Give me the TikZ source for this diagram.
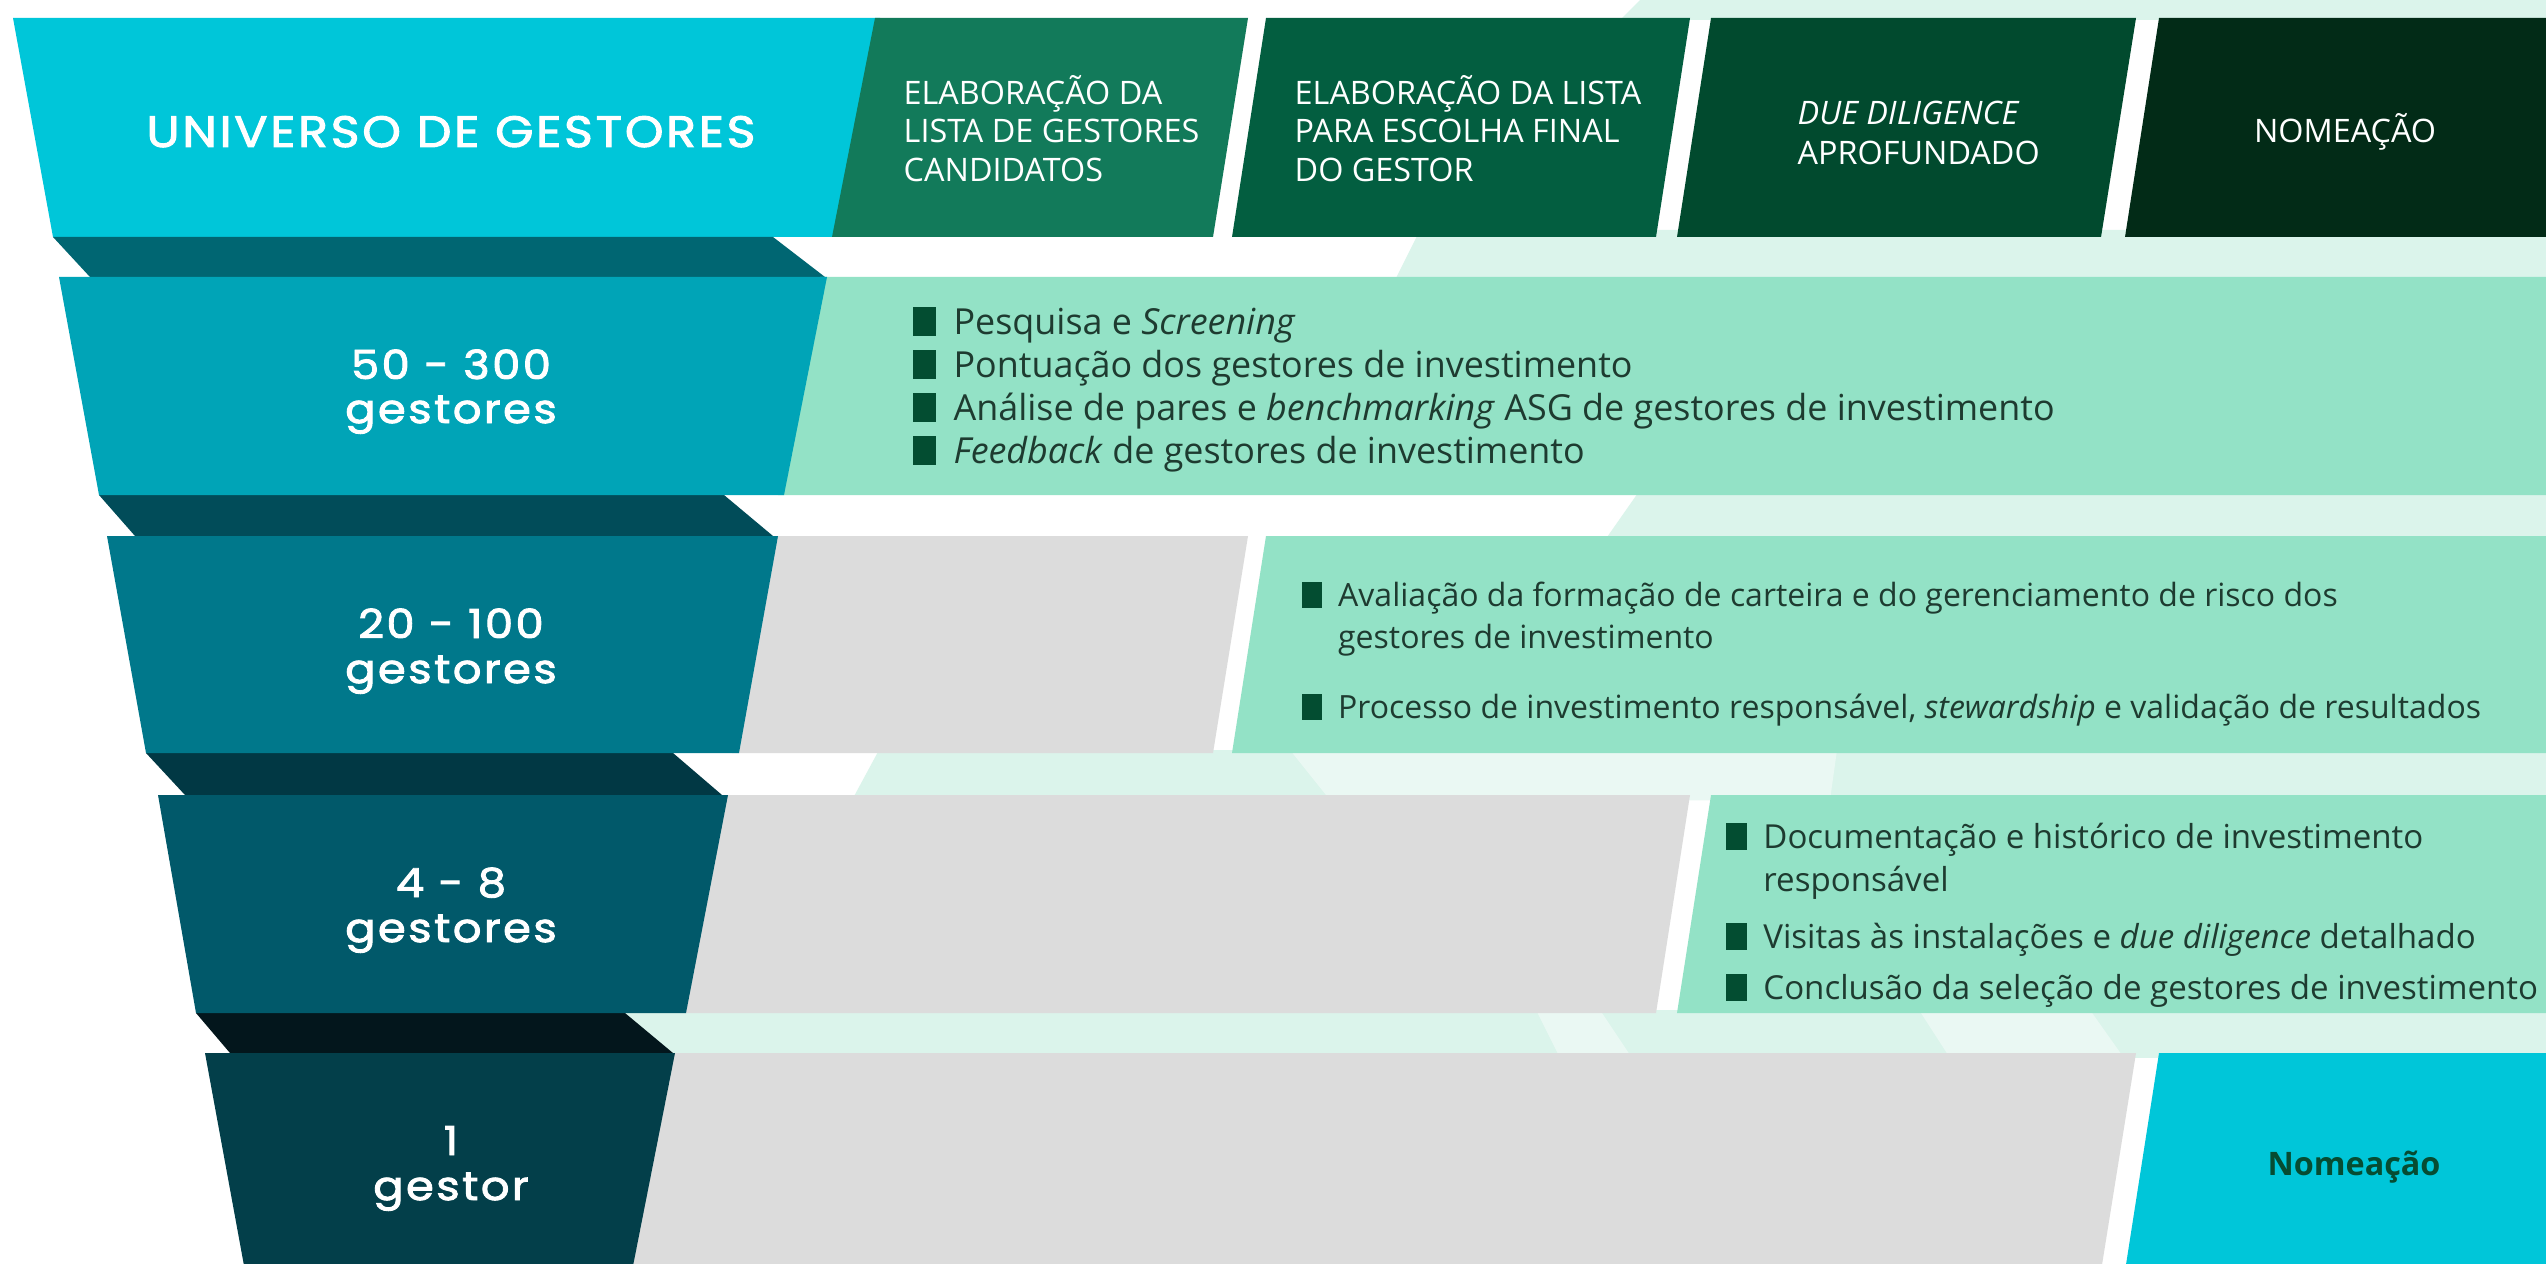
\documentclass[tikz,border=0pt]{standalone}
\usepackage{fontspec}
\setmainfont{Open Sans}
\newfontfamily\lblfont[FakeStretch=1.12,LetterSpace=6,FakeBold=2.2]{Poppins}
\definecolor{hcyan}{HTML}{00C6D9}
\definecolor{gA}{HTML}{127A5A}
\definecolor{gB}{HTML}{035E40}
\definecolor{gC}{HTML}{014A2E}
\definecolor{gD}{HTML}{022B17}
\definecolor{fA}{HTML}{00A4B7}
\definecolor{fB}{HTML}{00788B}
\definecolor{fC}{HTML}{01596A}
\definecolor{fD}{HTML}{033F4A}
\definecolor{cA}{HTML}{006672}
\definecolor{cB}{HTML}{014C59}
\definecolor{cC}{HTML}{013844}
\definecolor{cD}{HTML}{03161C}
\definecolor{panel}{HTML}{93E2C6}
\definecolor{greyp}{HTML}{DCDCDC}
\definecolor{mint}{HTML}{DBF4EB}
\definecolor{mintl}{HTML}{EAF8F3}
\definecolor{bodyc}{HTML}{1E3B30}
\definecolor{bulletc}{HTML}{034D31}
\definecolor{nomc}{HTML}{064C32}
\newcommand{\bsq}{{\color{bulletc}\rule[-0.06em]{0.64em}{0.82em}}\hspace{0.5em}}
\tikzset{
  hdrtxt/.style={text=white, font=\fontsize{9.2}{11}\selectfont, anchor=base west, inner sep=0pt},
  bodytxt/.style={text=bodyc, font=\fontsize{9.2}{11}\selectfont, anchor=base west, inner sep=0pt},
  bodyA/.style={bodytxt, font=\fontsize{10.2}{12}\selectfont},
  bodyB/.style={bodytxt, font=\fontsize{9.1}{11}\selectfont},
  bodyC/.style={bodytxt, font=\fontsize{9.4}{11}\selectfont},
  lbltxt/.style={text=white, font=\lblfont\fontsize{11.4}{13}\selectfont, anchor=base, inner sep=0pt},
}
\begin{document}
\begin{tikzpicture}[x=0.01cm,y=-0.01cm]
\useasboundingbox (0,0) rectangle (2546,1264);
\begin{scope}
\clip (0,0) rectangle (2546,1264);
\fill[white] (0,0) rectangle (2546,1264);
% background mint
\fill[mint] (1640,0)--(2546,0)--(2546,20)--(1620,20)--cycle;
\fill[mint] (1420,230)--(2546,230)--(2546,280)--(1395,280)--cycle;
\fill[mint] (1640,490)--(2546,490)--(2546,540)--(1605,540)--cycle;
\fill[mint] (879,750)--(2546,750)--(2546,800)--(852,800)--cycle;
\fill[mintl] (1290,750)--(1837,750)--(1830,800)--(1330,800)--cycle;
\fill[mint] (620,1010)--(2546,1010)--(2546,1058)--(620,1058)--cycle;
\fill[mintl] (1536,1010)--(1600,1010)--(1632,1058)--(1560,1058)--cycle;
\fill[mintl] (1919,1010)--(2090,1010)--(2124,1058)--(1950,1058)--cycle;
% header row
\fill[hcyan] (13,18)--(880,18)--(837,237)--(53,237)--cycle;
\fill[gA] (875,18)--(1248,18)--(1213,237)--(832,237)--cycle;
\fill[gB] (1266,18)--(1690,18)--(1656,237)--(1232,237)--cycle;
\fill[gC] (1711,18)--(2136,18)--(2101,237)--(1677,237)--cycle;
\fill[gD] (2159,18)--(2546,18)--(2546,237)--(2125,237)--cycle;
% connectors
\fill[cA] (53,237)--(773,237)--(825,277)--(90,277)--cycle;
\fill[cB] (99,495)--(724,495)--(773,536)--(135,536)--cycle;
\fill[cC] (146,753)--(673,753)--(722,795)--(185,795)--cycle;
\fill[cD] (196,1013)--(625,1013)--(673,1053)--(230,1053)--cycle;
% panels
\fill[panel] (820,277)--(2546,277)--(2546,495)--(778,495)--cycle;
\fill[greyp] (770,536)--(1248,536)--(1213,753)--(732,753)--cycle;
\fill[panel] (1266,536)--(2546,536)--(2546,753)--(1232,753)--cycle;
\fill[greyp] (720,795)--(1690,795)--(1656,1013)--(680,1013)--cycle;
\fill[panel] (1711,795)--(2546,795)--(2546,1013)--(1677,1013)--cycle;
\fill[greyp] (668,1053)--(2136,1053)--(2101,1271)--(626,1271)--cycle;
\fill[hcyan] (2159,1053)--(2546,1053)--(2546,1271)--(2125,1271)--cycle;
% funnel rows
\fill[fA] (59,277)--(827,277)--(784,495)--(99,495)--cycle;
\fill[fB] (107,536)--(778,536)--(739,753)--(146,753)--cycle;
\fill[fC] (158,795)--(728,795)--(686,1013)--(196,1013)--cycle;
\fill[fD] (205,1053)--(675,1053)--(632,1271)--(245,1271)--cycle;
\end{scope}
% header texts
\node[lbltxt, font=\lblfont\fontsize{12.5}{14}\selectfont] (univ) at (451,147) {UNIVERSO DE GESTORES};
\node[hdrtxt] (h1a) at (903,105) {ELABORAÇÃO DA};
\node[hdrtxt] (h1b) at (903,143) {LISTA DE GESTORES};
\node[hdrtxt] (h1c) at (903,182) {CANDIDATOS};
\node[hdrtxt] (h2a) at (1294,105) {ELABORAÇÃO DA LISTA};
\node[hdrtxt] (h2b) at (1294,143) {PARA ESCOLHA FINAL};
\node[hdrtxt] (h2c) at (1294,182) {DO GESTOR};
\node[hdrtxt] (h3a) at (1797,125) {\itshape DUE DILIGENCE};
\node[hdrtxt] (h3b) at (1797,165) {APROFUNDADO};
\node[hdrtxt, anchor=base] (h4) at (2345,143) {NOMEAÇÃO};
% funnel labels
\node[lbltxt] (r1a) at (451,379) {50 - 300};
\node[lbltxt] (r1b) at (451,423) {gestores};
\node[lbltxt] (r2a) at (451,638) {20 - 100};
\node[lbltxt] (r2b) at (451,683) {gestores};
\node[lbltxt] (r3a) at (451,897) {4 - 8};
\node[lbltxt] (r3b) at (451,942) {gestores};
\node[lbltxt] (r4a) at (451,1155) {1};
\node[lbltxt] (r4b) at (451,1200) {gestor};
% row 1 text
\node[bodyA] (t1a) at (912,334) {\bsq Pesquisa e \textit{Screening}};
\node[bodyA] (t1b) at (912,377) {\bsq Pontuação dos gestores de investimento};
\node[bodyA] (t1c) at (912,420) {\bsq Análise de pares e \textit{benchmarking} ASG de gestores de investimento};
\node[bodyA] (t1d) at (912,463) {\bsq \textit{Feedback} de gestores de investimento};
% row 2 text
\node[bodyB] (t2a) at (1301,606) {\bsq Avaliação da formação de carteira e do gerenciamento de risco dos};
\node[bodyB] (t2b) at (1301,648) {\phantom{\bsq}gestores de investimento};
\node[bodyB] (t2c) at (1301,718) {\bsq Processo de investimento responsável, \textit{stewardship} e validação de resultados};
% row 3 text
\node[bodyC] (t3a) at (1725,848) {\bsq Documentação e histórico de investimento};
\node[bodyC] (t3b) at (1725,891) {\phantom{\bsq}responsável};
\node[bodyC] (t3c) at (1725,948) {\bsq Visitas às instalações e \textit{due diligence} detalhado};
\node[bodyC] (t3d) at (1725,999) {\bsq Conclusão da seleção de gestores de investimento};
% row 4 text
\node[bodytxt, anchor=base, text=nomc, font=\fontsize{9.2}{11}\selectfont\bfseries] (t4) at (2354,1175) {Nomeação};
\end{tikzpicture}
\end{document}
